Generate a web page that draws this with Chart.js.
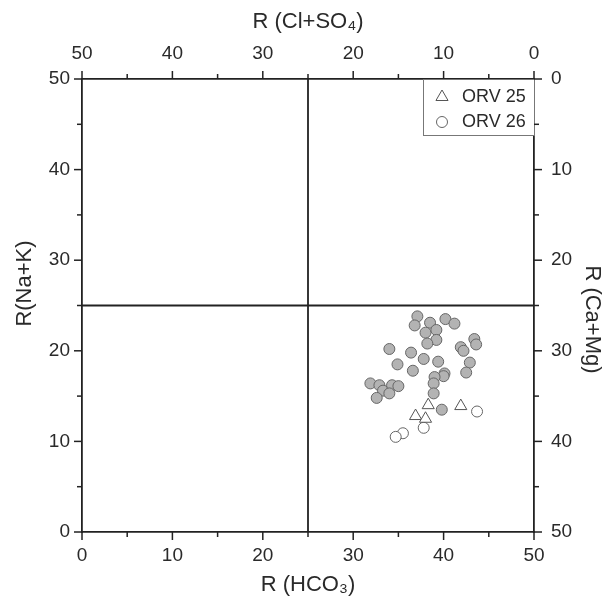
<!DOCTYPE html>
<html>
<head>
<meta charset="utf-8">
<script src="https://cdn.jsdelivr.net/npm/chart.js@4"></script>
<style>
  html, body { margin: 0; padding: 0; background: #fff; }
  #wrap { width: 606px; height: 601px; }
</style>
</head>
<body>
<div id="wrap"><canvas id="ionChart"></canvas></div>
<script>
// R(HCO3) on x, R(Na+K) on y
const greyHCO3 = [37.1, 36.8, 38.5, 40.2, 41.2, 38.0, 39.2, 39.2, 38.2, 34.0, 36.4, 37.8, 39.4, 34.9, 36.6, 41.9, 42.2, 43.4, 43.6, 42.9, 42.5, 40.1, 40.0, 39.0, 38.9, 38.9, 31.9, 32.9, 33.3, 34.3, 35.0, 34.0, 32.6, 39.8];
const greyNaK  = [23.8, 22.8, 23.1, 23.5, 23.0, 22.0, 22.3, 21.2, 20.8, 20.2, 19.8, 19.1, 18.8, 18.5, 17.8, 20.4, 20.0, 21.3, 20.7, 18.7, 17.6, 17.5, 17.2, 17.1, 16.4, 15.3, 16.4, 16.2, 15.6, 16.2, 16.1, 15.3, 14.8, 13.5];

const orv25HCO3 = [38.3, 36.9, 38.0, 41.9];
const orv25NaK  = [14.0, 12.8, 12.5, 13.9];

const orv26HCO3 = [43.7, 37.8, 35.5, 34.7];
const orv26NaK  = [13.3, 11.5, 10.9, 10.5];

const axisMin = 0;
const axisMax = 50;
const tickStep = 5;
const splitValue = 25;

const xTitle = 'R (HCO\u2083)';
const x2Title = 'R (Cl+SO\u2084)';
const yTitle = 'R(Na+K)';
const y2Title = 'R (Ca+Mg)';

const FONT = "'Liberation Sans', Arial, sans-serif";
const INK = '#2a2a2a';

function toPoints(xs, ys) {
  return xs.map((x, i) => ({ x: x, y: ys[i] }));
}

// outward tick marks, long on the labelled values, short in between
const tickMarks = {
  id: 'tickMarks',
  afterDraw(chart) {
    const ctx = chart.ctx;
    ctx.save();
    ctx.strokeStyle = '#222';
    ctx.lineWidth = 1.5;
    Object.values(chart.scales).forEach(scale => {
      scale.ticks.forEach(t => {
        const len = t.value % 10 === 0 ? 8 : 5;
        const p = scale.getPixelForValue(t.value);
        ctx.beginPath();
        if (scale.position === 'bottom') { ctx.moveTo(p, scale.top); ctx.lineTo(p, scale.top + len); }
        if (scale.position === 'top') { ctx.moveTo(p, scale.bottom); ctx.lineTo(p, scale.bottom - len); }
        if (scale.position === 'left') { ctx.moveTo(scale.right, p); ctx.lineTo(scale.right - len, p); }
        if (scale.position === 'right') { ctx.moveTo(scale.left, p); ctx.lineTo(scale.left + len, p); }
        ctx.stroke();
      });
    });
    ctx.restore();
  }
};

// the two lines splitting the plot into quadrants
const quadrantLines = {
  id: 'quadrantLines',
  beforeDatasetsDraw(chart) {
    const { ctx, chartArea, scales } = chart;
    const px = scales.x.getPixelForValue(splitValue);
    const py = scales.y.getPixelForValue(splitValue);
    ctx.save();
    ctx.strokeStyle = '#222';
    ctx.lineWidth = 1.8;
    ctx.beginPath();
    ctx.moveTo(px, chartArea.top);
    ctx.lineTo(px, chartArea.bottom);
    ctx.moveTo(chartArea.left, py);
    ctx.lineTo(chartArea.right, py);
    ctx.stroke();
    ctx.restore();
  }
};

// vertical axis titles, nudged along the axis
const sideTitles = {
  id: 'sideTitles',
  afterDraw(chart, args, opts) {
    const { ctx, chartArea } = chart;
    const mid = (chartArea.top + chartArea.bottom) / 2;
    opts.items.forEach(item => {
      const scale = chart.scales[item.axis];
      const left = scale.position === 'left';
      const x = left ? scale.left + item.inset : scale.right - item.inset;
      ctx.save();
      ctx.translate(x, mid + item.shift);
      ctx.rotate(left ? -Math.PI / 2 : Math.PI / 2);
      ctx.fillStyle = INK;
      ctx.font = '22px ' + FONT;
      ctx.textAlign = 'center';
      ctx.textBaseline = 'middle';
      ctx.fillText(item.text, 0, 0);
      ctx.restore();
    });
  }
};

// boxed legend in the top right corner of the plot
const boxLegend = {
  id: 'boxLegend',
  afterDatasetsDraw(chart, args, opts) {
    const { ctx, chartArea } = chart;
    const left = chartArea.right - opts.width;
    const top = chartArea.top;
    ctx.save();
    ctx.fillStyle = '#fff';
    ctx.fillRect(left, top, opts.width, opts.height);
    ctx.strokeStyle = '#777';
    ctx.lineWidth = 1;
    ctx.strokeRect(left + 0.5, top + 0.5, opts.width, opts.height);
    let row = 0;
    chart.data.datasets.forEach(ds => {
      if (!ds.inLegend) return;
      const y = top + opts.firstRow + row * opts.rowGap;
      ctx.fillStyle = ds.backgroundColor;
      ctx.strokeStyle = ds.borderColor;
      ctx.lineWidth = 1;
      Chart.helpers.drawPoint(ctx, {
        pointStyle: ds.pointStyle,
        radius: ds.pointStyle === 'triangle' ? 7 : 5.5,
        borderWidth: 1,
        rotation: 0
      }, left + opts.markerX, y);
      ctx.fillStyle = INK;
      ctx.font = '18px ' + FONT;
      ctx.textBaseline = 'middle';
      ctx.textAlign = 'left';
      ctx.fillText(ds.label, left + opts.textX, y);
      row++;
    });
    ctx.restore();
  }
};

function axisOptions(position, reverse, title, titlePadding, labelPadding, size) {
  return {
    type: 'linear',
    position: position,
    reverse: reverse,
    min: axisMin,
    max: axisMax,
    afterFit(scale) {
      if (scale.isHorizontal()) scale.height = size; else scale.width = size;
    },
    grid: { drawOnChartArea: false, drawTicks: false },
    border: { display: true, color: '#222', width: 1.8 },
    ticks: {
      stepSize: tickStep,
      autoSkip: false,
      maxRotation: 0,
      padding: labelPadding,
      color: INK,
      font: { family: FONT, size: 19 },
      callback: v => (v % 10 === 0 ? v : '')
    },
    title: {
      display: title !== null,
      text: title || '',
      color: INK,
      font: { family: FONT, size: 22 },
      padding: titlePadding
    }
  };
}

const ctx = document.getElementById('ionChart').getContext('2d');

const ionChart = new Chart(ctx, {
  type: 'scatter',
  data: {
    datasets: [
      {
        label: 'samples',
        data: toPoints(greyHCO3, greyNaK),
        pointStyle: 'circle',
        pointRadius: 5.5,
        borderWidth: 1,
        backgroundColor: '#b3b3b3',
        borderColor: '#666',
        inLegend: false
      },
      {
        label: 'ORV 25',
        data: toPoints(orv25HCO3, orv25NaK),
        pointStyle: 'triangle',
        pointRadius: 7,
        borderWidth: 1,
        backgroundColor: '#fff',
        borderColor: '#555',
        inLegend: true
      },
      {
        label: 'ORV 26',
        data: toPoints(orv26HCO3, orv26NaK),
        pointStyle: 'circle',
        pointRadius: 5.5,
        borderWidth: 1,
        backgroundColor: '#fff',
        borderColor: '#666',
        inLegend: true
      }
    ]
  },
  options: {
    responsive: true,
    maintainAspectRatio: false,
    animation: false,
    layout: { padding: 0 },
    elements: { point: { hoverRadius: 5.5 } },
    scales: {
      x: axisOptions('bottom', false, xTitle, { top: 0, bottom: 3 }, 12, 69),
      x2: axisOptions('top', true, x2Title, { top: 9, bottom: 0 }, 14, 79),
      y: axisOptions('left', false, null, 0, 12, 82),
      y2: axisOptions('right', true, null, 0, 17, 72)
    },
    plugins: {
      legend: { display: false },
      tooltip: { enabled: false },
      boxLegend: { width: 111, height: 56, firstRow: 18, rowGap: 25, markerX: 19, textX: 39 },
      sideTitles: {
        items: [
          { axis: 'y', text: yTitle, inset: 25, shift: -22 },
          { axis: 'y2', text: y2Title, inset: 14, shift: 14 }
        ]
      }
    }
  },
  plugins: [quadrantLines, boxLegend, tickMarks, sideTitles]
});
</script>
</body>
</html>
